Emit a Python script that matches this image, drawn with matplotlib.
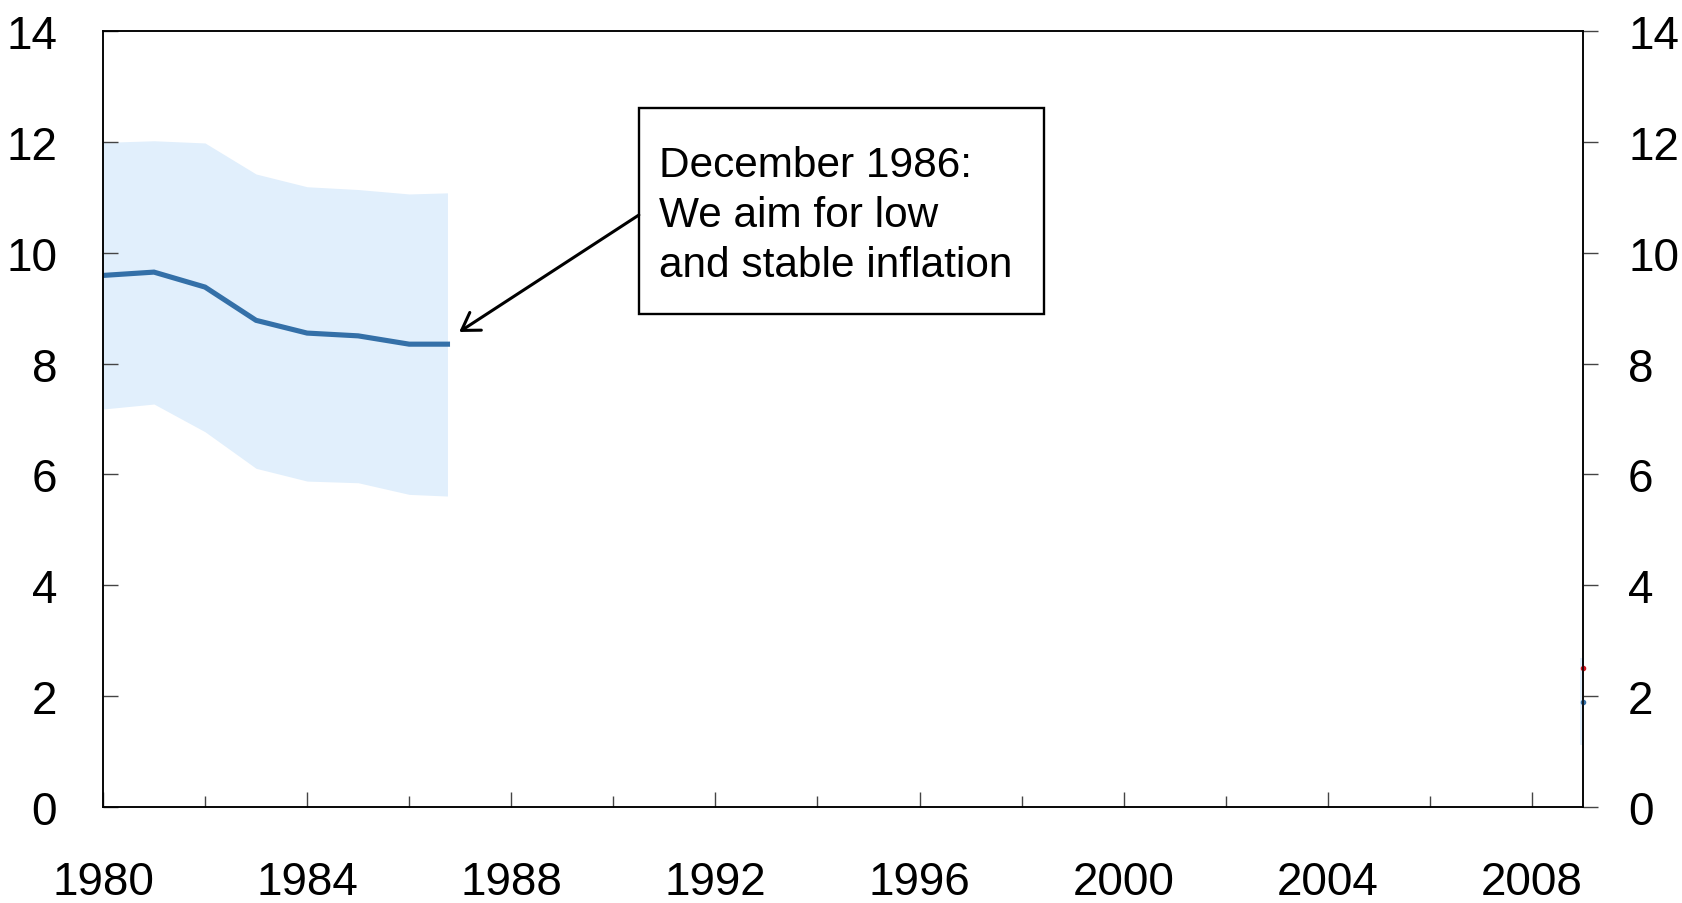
import matplotlib
matplotlib.use("Agg")
import matplotlib.pyplot as plt
from matplotlib.ticker import FixedLocator
from matplotlib.patches import Rectangle

# ---- data ----
years = [1980, 1981, 1982, 1983, 1984, 1985, 1986, 1986.75]
median = [9.59, 9.65, 9.38, 8.78, 8.55, 8.50, 8.35, 8.35]
upper = [11.99, 12.02, 11.98, 11.42, 11.19, 11.14, 11.06, 11.08]
lower = [7.18, 7.27, 6.77, 6.11, 5.88, 5.85, 5.64, 5.61]

end_years = [2008.94, 2009.0]
end_upper = [2.68, 2.68]
end_lower = [1.12, 1.12]
end_x = 2009.0
end_target = 2.5
end_median = 1.89

annot_text = "December 1986:\nWe aim for low\nand stable inflation"
annot_xy = (1986.98, 8.57)          # arrow tip
annot_tail = (1990.50, 10.68)        # arrow start at box edge
annot_text_pos = (1990.90, 10.68)
annot_box = (1990.50, 8.90, 1998.44, 12.61)  # x0, y0, x1, y1

x_major = [1980, 1984, 1988, 1992, 1996, 2000, 2004, 2008]
x_minor = [1982, 1986, 1990, 1994, 1998, 2002, 2006]
y_ticks = [0, 2, 4, 6, 8, 10, 12, 14]

LINE = "#3470a8"
BAND = "#e1effc"
RED = "#d0141e"

plt.rcParams["font.family"] = ["Liberation Sans", "DejaVu Sans"]

fig = plt.figure(figsize=(16.82, 9.04), dpi=100)
ax = fig.add_axes([0.0612, 0.1062, 0.88, 0.8584])

ax.fill_between(years, lower, upper, color=BAND, linewidth=0)
ax.plot(years, median, color=LINE, linewidth=3.7, solid_joinstyle="miter")

ax.fill_between(end_years, end_lower, end_upper, color=BAND, linewidth=0, clip_on=False)
ax.plot([end_x], [end_target], marker="o", markersize=3, color=RED, clip_on=False, zorder=5)
ax.plot([end_x], [end_median], marker="o", markersize=3, color=LINE, clip_on=False, zorder=5)

ax.set_xlim(1980, 2009)
ax.set_ylim(0, 14)

ax.xaxis.set_major_locator(FixedLocator(x_major))
ax.xaxis.set_minor_locator(FixedLocator(x_minor))
ax.set_xticklabels([str(y) for y in x_major])
ax.set_yticks(y_ticks)
ax.set_yticklabels([str(v) for v in y_ticks])

for s in ax.spines.values():
    s.set_linewidth(1.1)
    s.set_color("black")

ax.tick_params(axis="x", which="major", direction="in", length=10.8, width=1,
               color="#444444", labelsize=33, pad=38, top=False)
ax.tick_params(axis="x", which="minor", direction="in", length=7.9, width=1,
               color="#444444", top=False)
ax.tick_params(axis="y", which="major", direction="in", length=10.8, width=1,
               color="#444444", labelsize=33, pad=33)

ax2 = ax.twinx()
ax2.set_ylim(0, 14)
ax2.set_yticks(y_ticks)
ax2.set_yticklabels([str(v) for v in y_ticks])
ax2.tick_params(axis="y", direction="out", length=10.8, width=1, color="#444444",
                labelsize=33, pad=21.6)
for s in ax2.spines.values():
    s.set_linewidth(1.1)

# annotation frame, text and arrow
bx0, by0, bx1, by1 = annot_box
ax.add_patch(Rectangle((bx0, by0), bx1 - bx0, by1 - by0, fc="white", ec="black",
                       lw=1.7, zorder=6))
ax.text(annot_text_pos[0], annot_text_pos[1], annot_text, fontsize=30.5,
        ha="left", va="center", linespacing=1.33, zorder=7)
ax.annotate("", xy=annot_xy, xytext=annot_tail, textcoords="data",
            arrowprops=dict(arrowstyle="->,head_length=0.6,head_width=0.38",
                            mutation_scale=20, color="black", lw=2.2,
                            shrinkA=0, shrinkB=0),
            zorder=6)

fig.savefig("out.png", dpi=100)
